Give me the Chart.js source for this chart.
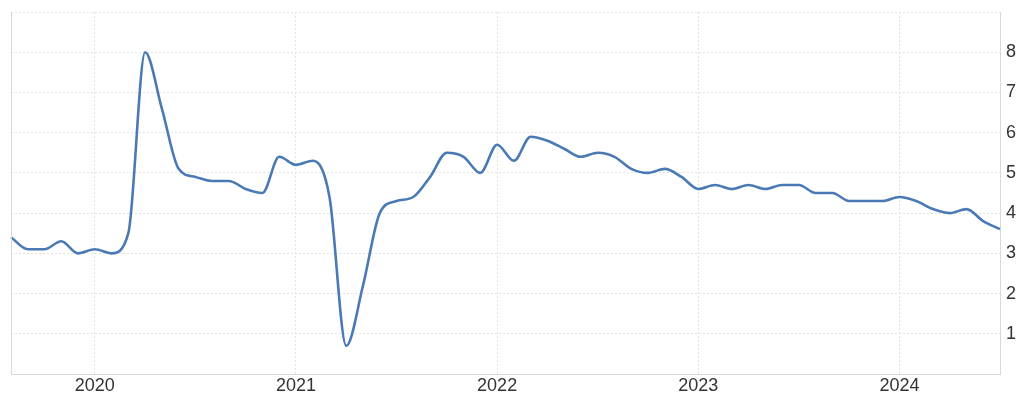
<!DOCTYPE html>
<html>
<head>
<meta charset="utf-8">
<script src="https://cdn.jsdelivr.net/npm/chart.js@4"></script>
<style>
    html, body { margin: 0; padding: 0; background: #fff; }
    #wrap { width: 1024px; height: 404px; }
</style>
</head>
<body>
<div id="wrap"><canvas id="rateChart"></canvas></div>
<script>
// Mois (août 2019 -> juillet 2024)
const months = [
    "2019-08", "2019-09", "2019-10", "2019-11", "2019-12",
    "2020-01", "2020-02", "2020-03", "2020-04", "2020-05", "2020-06",
    "2020-07", "2020-08", "2020-09", "2020-10", "2020-11", "2020-12",
    "2021-01", "2021-02", "2021-03", "2021-04", "2021-05", "2021-06",
    "2021-07", "2021-08", "2021-09", "2021-10", "2021-11", "2021-12",
    "2022-01", "2022-02", "2022-03", "2022-04", "2022-05", "2022-06",
    "2022-07", "2022-08", "2022-09", "2022-10", "2022-11", "2022-12",
    "2023-01", "2023-02", "2023-03", "2023-04", "2023-05", "2023-06",
    "2023-07", "2023-08", "2023-09", "2023-10", "2023-11", "2023-12",
    "2024-01", "2024-02", "2024-03", "2024-04", "2024-05", "2024-06",
    "2024-07"
];

// Valeurs
const values = [
    3.4, 3.1, 3.1, 3.3, 3.0,
    3.1, 3.0, 3.5, 8.0, 6.6, 5.1,
    4.9, 4.8, 4.8, 4.6, 4.5, 5.4,
    5.2, 5.3, 4.4, 0.7, 2.2, 4.0,
    4.3, 4.4, 4.9, 5.5, 5.4, 5.0,
    5.7, 5.3, 5.9, 5.8, 5.6, 5.4,
    5.5, 5.4, 5.1, 5.0, 5.1, 4.9,
    4.6, 4.7, 4.6, 4.7, 4.6, 4.7,
    4.7, 4.5, 4.5, 4.3, 4.3, 4.3,
    4.4, 4.3, 4.1, 4.0, 4.1, 3.8,
    3.6
];

const yTicks = [1, 2, 3, 4, 5, 6, 7, 8];

const gridColor = "#e2e2e2";
const axisColor = "#d9d9d9";
const lineColor = "#4a7ab5";
const fontFamily = "Arial, 'Liberation Sans', sans-serif";

// Ligne verticale pleine à gauche de la zone de tracé
const leftBorder = {
    id: "leftBorder",
    afterDraw(chart) {
        const { ctx, chartArea } = chart;
        ctx.save();
        ctx.strokeStyle = axisColor;
        ctx.lineWidth = 1;
        ctx.beginPath();
        ctx.moveTo(chartArea.left + 0.5, chartArea.top);
        ctx.lineTo(chartArea.left + 0.5, chartArea.bottom);
        ctx.stroke();
        ctx.restore();
    }
};

const ctx = document.getElementById("rateChart").getContext("2d");

new Chart(ctx, {
    type: "line",
    data: {
        labels: months,
        datasets: [{
            data: values,
            borderColor: lineColor,
            borderWidth: 2.6,
            pointRadius: 0,
            fill: false,
            cubicInterpolationMode: "monotone"
        }]
    },
    options: {
        responsive: true,
        maintainAspectRatio: false,
        animation: false,
        layout: { padding: { left: 11, top: 12, right: 8, bottom: 7 } },
        plugins: {
            legend: { display: false },
            tooltip: { enabled: false }
        },
        scales: {
            x: {
                offset: false,
                afterFit: (s) => { s.height = 23; s.paddingLeft = 0; s.paddingRight = 0; },
                grid: {
                    drawTicks: false,
                    color: (c) => (c.index > 0 && months[c.index] && months[c.index].endsWith("-01")) ? gridColor : "transparent"
                },
                border: { display: true, color: axisColor, dash: [2, 2] },
                ticks: {
                    autoSkip: false,
                    maxRotation: 0,
                    padding: 1,
                    color: "#333",
                    font: { family: fontFamily, size: 18 },
                    callback: function (value) {
                        const l = this.getLabelForValue(value);
                        return l.endsWith("-01") ? l.slice(0, 4) : "";
                    }
                }
            },
            y: {
                position: "right",
                min: 0,
                max: 9,
                afterFit: (s) => { s.width = 16; s.paddingTop = 0; s.paddingBottom = 0; },
                grid: { drawTicks: false, color: gridColor },
                border: { display: true, color: axisColor, dash: [2, 2] },
                ticks: {
                    stepSize: 1,
                    padding: 6,
                    color: "#333",
                    font: { family: fontFamily, size: 18 },
                    callback: (v) => yTicks.includes(v) ? String(v) : ""
                }
            }
        }
    },
    plugins: [leftBorder]
});
</script>
</body>
</html>
